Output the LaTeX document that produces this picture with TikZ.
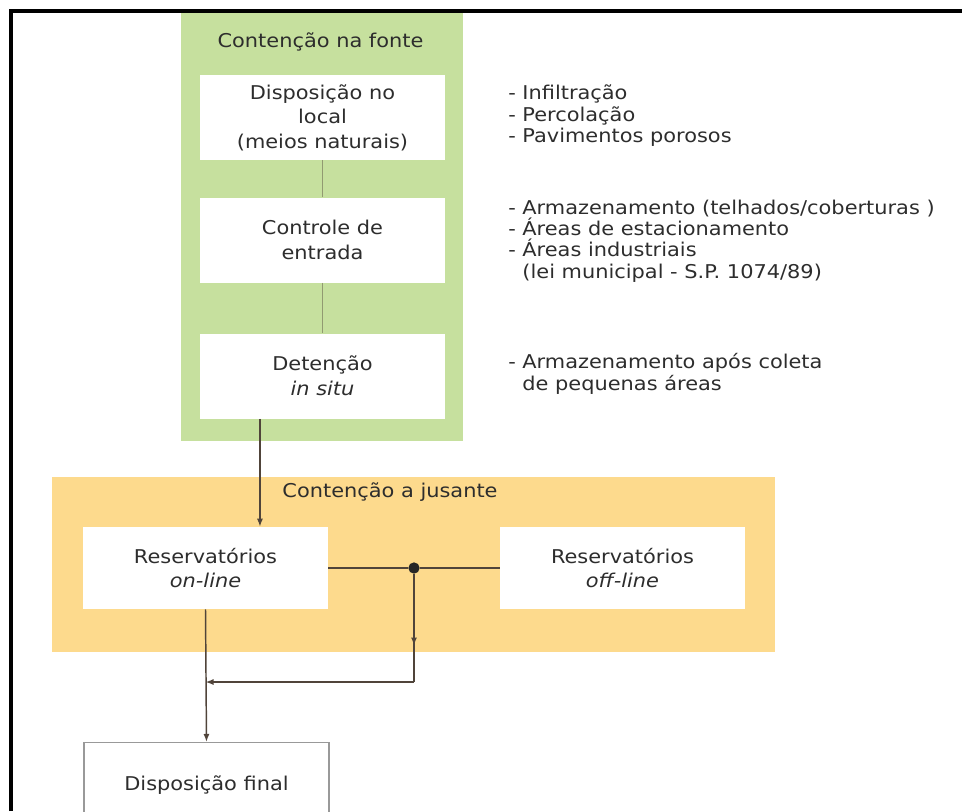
\documentclass[tikz,border=0pt]{standalone}
\usepackage{fontspec}
\setmainfont{DejaVu Sans}[FakeStretch=1.1]
\usepackage{tikz}
\usetikzlibrary{arrows.meta,positioning,calc}
\definecolor{fonteverde}{RGB}{198,224,158}
\definecolor{jusante}{RGB}{253,218,141}
\definecolor{linha}{RGB}{80,68,58}
\definecolor{texto}{RGB}{45,45,45}

\begin{document}
\begin{tikzpicture}[x=0.75pt,y=-0.75pt,
    box/.style={fill=white, minimum width=183.75pt, minimum height=63.75pt, align=center, text=texto, font=\fontsize{14.25}{18.4}\selectfont, inner sep=0pt},
    lista/.style={anchor=west, align=left, text=texto, font=\fontsize{14.25}{16.1}\selectfont, inner sep=0pt},
    titulo/.style={text=texto, font=\fontsize{14.25}{16}\selectfont, inner sep=0pt},
    seta/.style={draw=linha, line width=1.1pt, -{Latex[length=6pt,width=4.5pt]}}]
    \clip (0,0) rectangle (962,811);
    % fundos
    \fill[fonteverde] (181,11) rectangle (463,441);
    \fill[jusante] (52,477) rectangle (775,652);
    \draw[line width=2.5pt] (11,811) -- (11,11) -- (962,11);

    % contencao na fonte
    \node[titulo] at (320.5,42) (fonte) {Contenção na fonte};
    \node[box] at (322.5,117.5) (local) {Disposição no\\local\\(meios naturais)};
    \node[box] at (322.5,240) (entrada) {Controle de\\entrada};
    \node[box] at (322.5,376) (detencao) {Detenção\\\textit{in situ}};
    \draw[draw=linha!45!fonteverde, line width=1.2pt] (local) -- (entrada);
    \draw[draw=linha!45!fonteverde, line width=1.2pt] (entrada) -- (detencao);

    \node[lista] at (508,116) (medidas1) {- Infiltração\\- Percolação\\- Pavimentos porosos};
    \node[lista] at (508,241) (medidas2) {- Armazenamento (telhados/coberturas )\\- Áreas de estacionamento\\- Áreas industriais\\\phantom{- }(lei municipal - S.P. 1074/89)};
    \node[lista] at (508,374) (medidas3) {- Armazenamento após coleta\\\phantom{- }de pequenas áreas};

    % contencao a jusante
    \node[titulo] at (390,492) (jus) {Contenção a jusante};
    \node[box, minimum height=61.5pt] at (205.5,568) (online) {Reservatórios\\\textit{on-line}};
    \node[box, minimum height=61.5pt] at (622.5,568) (offline) {Reservatórios\\\textit{off-line}};
    \node[circle, fill=black!85, inner sep=0pt, minimum size=8.5pt] at (414,568) (no) {};
    \node[box, draw=black!40, line width=0.8pt] at (206.5,785) (final) {Disposição final};
    \coordinate (junta) at (414,682);

    \draw[seta] ([xshift=-46.9pt]detencao.south) -- ([xshift=-46.9pt]detencao.south |- online.north);
    \draw[draw=linha, line width=1.1pt] (online.east) -- (no) -- (offline.west);
    \draw[draw=linha, line width=1.1pt] (no) -- (junta);
    \draw[seta] (no) -- ($(no)!0.68!(junta)$);
    \draw[seta] (junta) -- (junta -| online.south);
    \draw[seta] (online.south) -- (final.north);
\end{tikzpicture}
\end{document}
